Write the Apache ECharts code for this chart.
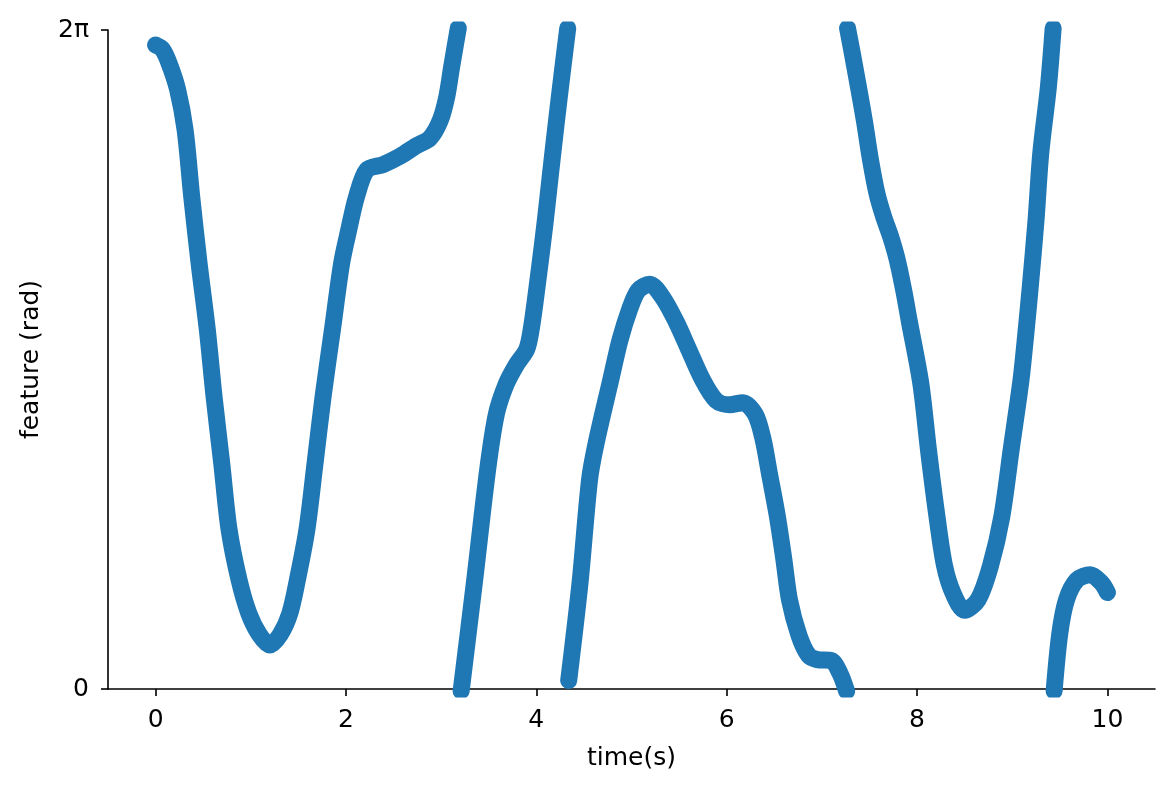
<!DOCTYPE html>
<html>
<head>
<meta charset="utf-8">
<title>feature phase</title>
<script src="https://cdn.jsdelivr.net/npm/echarts@6/dist/echarts.min.js"></script>
<style>
  html, body { margin: 0; padding: 0; background: #fff; }
  #chart { width: 1174px; height: 790px; }
</style>
</head>
<body>
<div id="chart"></div>
<script>
// wrapped phase, one array pair per visible branch
var timeA  = [0, 0.07, 0.14, 0.23, 0.31, 0.38, 0.457, 0.544, 0.614, 0.695, 0.772, 0.877, 0.98, 1.09, 1.2, 1.31, 1.41, 1.49, 1.59, 1.675, 1.76, 1.857, 1.955, 2.03, 2.11, 2.22, 2.39, 2.57, 2.74, 2.88, 2.99, 3.06, 3.11, 3.18];
var phaseA = [6.14, 6.1, 5.97, 5.72, 5.33, 4.69, 4.06, 3.42, 2.79, 2.15, 1.52, 1.04, 0.72, 0.52, 0.42, 0.52, 0.72, 1.04, 1.52, 2.15, 2.79, 3.42, 4.06, 4.38, 4.69, 4.95, 5.0, 5.08, 5.18, 5.25, 5.42, 5.65, 5.93, 6.3];

var timeB  = [3.21, 3.35, 3.49, 3.58, 3.68, 3.79, 3.9, 3.95, 4.02, 4.09, 4.15, 4.21, 4.27, 4.33];
var phaseB = [-0.02, 1.02, 2.1, 2.62, 2.9, 3.09, 3.24, 3.45, 3.92, 4.43, 4.92, 5.4, 5.86, 6.3];

var timeC  = [4.34, 4.46, 4.56, 4.63, 4.78, 4.88, 4.98, 5.07, 5.19, 5.33, 5.47, 5.6, 5.74, 5.89, 6.03, 6.17, 6.3, 6.38, 6.45, 6.53, 6.6, 6.66, 6.76, 6.86, 6.95, 7.1, 7.19, 7.26];
var phaseC = [0.08, 1.02, 2.0, 2.35, 2.94, 3.33, 3.62, 3.8, 3.86, 3.73, 3.5, 3.24, 2.96, 2.75, 2.71, 2.73, 2.62, 2.39, 2.05, 1.66, 1.24, 0.85, 0.51, 0.32, 0.28, 0.27, 0.15, -0.02];

var timeD  = [7.27, 7.32, 7.39, 7.45, 7.51, 7.58, 7.65, 7.72, 7.79, 7.86, 7.92, 8.04, 8.12, 8.21, 8.29, 8.38, 8.5, 8.64, 8.77, 8.89, 8.99, 9.09, 9.14, 9.19, 9.25, 9.3, 9.38, 9.43];
var phaseD = [6.3, 6.06, 5.71, 5.4, 5.05, 4.72, 4.5, 4.32, 4.1, 3.8, 3.5, 2.91, 2.28, 1.64, 1.17, 0.91, 0.75, 0.85, 1.17, 1.64, 2.29, 2.93, 3.36, 3.84, 4.47, 5.11, 5.74, 6.3];

var timeE  = [9.44, 9.5, 9.57, 9.68, 9.82, 9.94, 10.0];
var phaseE = [-0.02, 0.53, 0.85, 1.04, 1.09, 1.01, 0.92];

var xTicks = [0, 2, 4, 6, 8, 10];
var yTicks = [0, 2 * Math.PI];
var yTickLabels = ['0', '2π'];

var FONT = 'DejaVu Sans';
var BLUE = '#1f77b4';

var zip = function (ts, ps) {
    return ts.map(function (t, i) { return [t, ps[i]]; });
};

var branches = [
    zip(timeA, phaseA),
    zip(timeB, phaseB),
    zip(timeC, phaseC),
    zip(timeD, phaseD),
    zip(timeE, phaseE)
];

var chart = echarts.init(document.getElementById('chart'), null, {renderer: 'canvas'});

var option = {
    backgroundColor: '#ffffff',
    animation: false,
    grid: {left: 108, right: 19, top: 30, bottom: 101},
    xAxis: {
        type: 'value',
        min: -0.5,
        max: 10.5,
        name: 'time(s)',
        nameLocation: 'middle',
        nameGap: 57,
        nameTextStyle: {fontFamily: FONT, fontSize: 25, color: '#000'},
        axisLine: {show: true, onZero: false, lineStyle: {color: '#000', width: 1.6}},
        axisTick: {show: true, inside: false, length: 7, customValues: xTicks, lineStyle: {color: '#000', width: 1.6}},
        axisLabel: {customValues: xTicks, fontFamily: FONT, fontSize: 25, color: '#000', margin: 19},
        splitLine: {show: false}
    },
    yAxis: {
        type: 'value',
        min: 0,
        max: 2 * Math.PI,
        name: 'feature (rad)',
        nameLocation: 'middle',
        nameGap: 64,
        nameTextStyle: {fontFamily: FONT, fontSize: 25, color: '#000'},
        axisLine: {show: true, onZero: false, lineStyle: {color: '#000', width: 1.6}},
        axisTick: {show: true, inside: false, length: 7, customValues: yTicks, lineStyle: {color: '#000', width: 1.6}},
        axisLabel: {
            customValues: yTicks,
            fontFamily: FONT, fontSize: 25, color: '#000', margin: 19,
            formatter: function (v) { return v > 1 ? yTickLabels[1] : yTickLabels[0]; }
        },
        splitLine: {show: false}
    },
    series: branches.map(function (pts) {
        return {
            type: 'line',
            data: pts,
            clip: true,
            showSymbol: false,
            smooth: 0.3,
            lineStyle: {color: BLUE, width: 17, cap: 'round', join: 'round'},
            silent: true
        };
    })
};

chart.setOption(option);
</script>
</body>
</html>
